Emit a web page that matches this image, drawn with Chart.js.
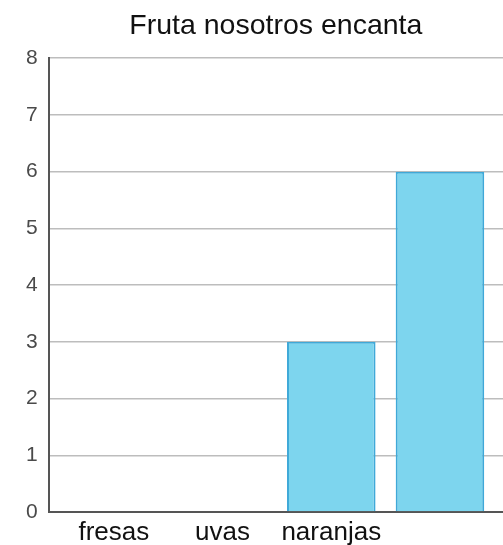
<!DOCTYPE html>
<html>
<head>
<meta charset="utf-8">
<script src="https://cdn.jsdelivr.net/npm/chart.js@4.4.1/dist/chart.umd.min.js"></script>
<style>
  html, body { margin: 0; padding: 0; background: #ffffff; }
  #wrap { width: 503px; height: 545px; }
</style>
</head>
<body>
<div id="wrap"><canvas id="c" width="503" height="545"></canvas></div>
<script>
const chartTitle = 'Fruta nosotros encanta';
const categories = ['fresas', 'uvas', 'naranjas', ''];
const values = [0, 0, 3, 6];
const yTicks = [0, 1, 2, 3, 4, 5, 6, 7, 8];

const points = categories.map((c, i) => ({ x: i, y: values[i] }));

new Chart(document.getElementById('c'), {
  type: 'bar',
  data: {
    datasets: [{
      data: points,
      backgroundColor: '#7dd5ee',
      borderColor: '#3fa9d8',
      borderWidth: 2,
      borderSkipped: 'bottom',
      barPercentage: 0.815,
      categoryPercentage: 1
    }]
  },
  options: {
    responsive: false,
    animation: false,
    devicePixelRatio: 1,
    layout: { padding: { left: 15, right: 0, top: 0, bottom: -9 } },
    plugins: {
      legend: { display: false },
      tooltip: { enabled: false },
      title: {
        display: true,
        text: chartTitle,
        fullSize: false,
        color: '#111111',
        font: { family: '"Liberation Sans", Arial, sans-serif', size: 28.5, weight: 'normal' },
        padding: { top: 9, bottom: 15 }
      }
    },
    scales: {
      x: {
        type: 'linear',
        min: -0.6,
        max: 3.58,
        offset: false,
        grid: { display: false, drawTicks: false },
        border: { display: true, color: '#555555', width: 2 },
        afterBuildTicks: (axis) => { axis.ticks = categories.map((c, i) => ({ value: i })); },
        ticks: {
          autoSkip: false,
          maxRotation: 0,
          padding: 8,
          color: '#111111',
          font: { family: '"Liberation Sans", Arial, sans-serif', size: 26, lineHeight: 1 },
          callback: (v) => categories[v] !== undefined ? categories[v] : ''
        }
      },
      y: {
        min: 0,
        max: 8,
        z: 1,
        afterBuildTicks: (axis) => { axis.ticks = yTicks.map(v => ({ value: v })); },
        grid: { color: '#bdbdbd', lineWidth: 1.5, drawTicks: false },
        border: { display: true, color: '#555555', width: 2 },
        ticks: {
          padding: 11,
          color: '#4a4a4a',
          font: { family: '"Liberation Sans", Arial, sans-serif', size: 21 }
        }
      }
    }
  }
});
</script>
</body>
</html>
